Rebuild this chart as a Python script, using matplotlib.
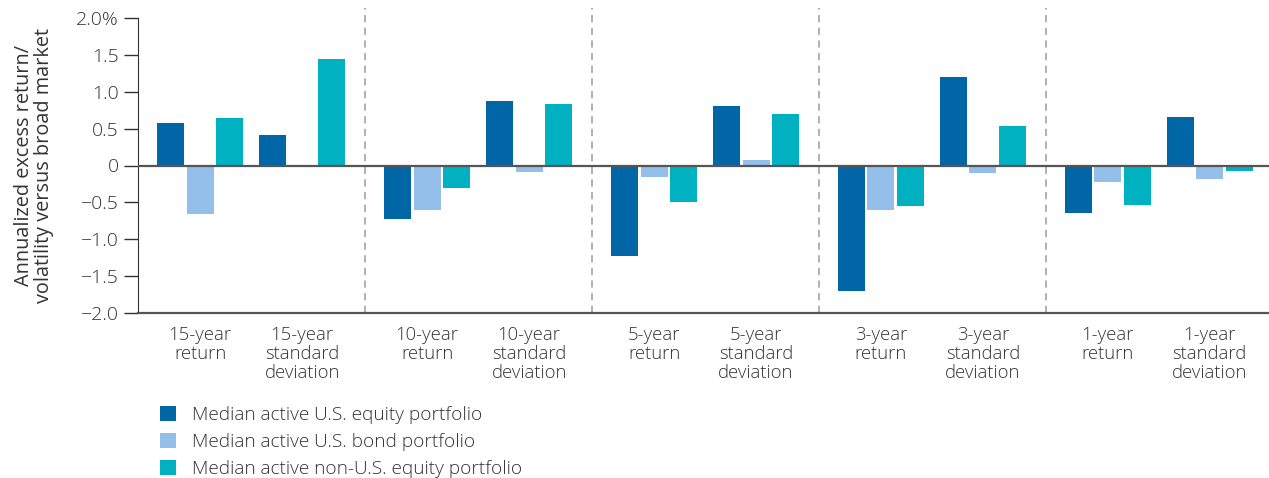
import matplotlib
matplotlib.use("Agg")
import matplotlib.pyplot as plt
import numpy as np

plt.rcParams["font.family"] = ["Open Sans", "DejaVu Sans"]
plt.rcParams["font.weight"] = "light"

categories = [
    "15-year\nreturn", "15-year\nstandard\ndeviation",
    "10-year\nreturn", "10-year\nstandard\ndeviation",
    "5-year\nreturn", "5-year\nstandard\ndeviation",
    "3-year\nreturn", "3-year\nstandard\ndeviation",
    "1-year\nreturn", "1-year\nstandard\ndeviation",
]
series_names = [
    "Median active U.S. equity portfolio",
    "Median active U.S. bond portfolio",
    "Median active non-U.S. equity portfolio",
]
us_equity = [0.57, 0.42, -0.73, 0.88, -1.23, 0.81, -1.70, 1.20, -0.64, 0.66]
us_bond = [-0.66, 0.0, -0.60, -0.09, -0.15, 0.08, -0.60, -0.10, -0.22, -0.18]
non_us_equity = [0.64, 1.45, -0.31, 0.84, -0.49, 0.70, -0.55, 0.54, -0.54, -0.07]
yticks = [2.0, 1.5, 1.0, 0.5, 0, -0.5, -1.0, -1.5, -2.0]
ytick_labels = ["2.0%", "1.5", "1.0", "0.5", "0", "\u22120.5", "\u22121.0", "\u22121.5", "\u22122.0"]

colors = ["#0066a6", "#93bfea", "#00b2c1"]
text_color = "#333333"

fig = plt.figure(figsize=(12.69, 4.78), dpi=100)
ax = fig.add_axes([138 / 1269, 1 - 313 / 478, 1 - 138 / 1269, (313 - 18) / 478])

# pairs of categories (return / std dev) separated by a wider gap
pair_step = 2.225
idx = np.arange(len(categories))
x = (idx // 2) * pair_step + (idx % 2)
width = 0.265
offset = 0.29

for k, (vals, name) in enumerate(zip([us_equity, us_bond, non_us_equity], series_names)):
    ax.bar(x + (k - 1) * offset, vals, width=width, color=colors[k], label=name, zorder=2)

ax.axhline(0, color="#555555", lw=1.6, zorder=3)
for p in range(1, 5):
    ax.axvline(p * pair_step - 0.61, ymin=0, ymax=1.035, color="#aaaaaa", lw=1.3,
               ls=(0, (4, 3)), clip_on=False, zorder=1)

ax.set_xlim(-0.61, 10.48)
ax.set_ylim(-2.0, 2.0)
ax.set_yticks(yticks)
ax.set_yticklabels(ytick_labels)
ax.set_xticks(x)
ax.set_xticklabels(categories, linespacing=1.1)
ax.tick_params(axis="x", length=0, pad=9, labelsize=13.3, labelcolor=text_color)
ax.tick_params(axis="y", length=10, width=1, color="#333333", pad=4, labelsize=14,
               labelcolor=text_color)

for s in ["top", "right"]:
    ax.spines[s].set_visible(False)
ax.spines["left"].set_color("#333333")
ax.spines["bottom"].set_color("#555555")
ax.spines["bottom"].set_linewidth(1.6)

ax.set_ylabel("Annualized excess return/\nvolatility versus broad market", fontsize=14.3,
              color=text_color, labelpad=16, linespacing=1.0)

fig.legend(loc="upper left", bbox_to_anchor=(143 / 1269, 1 - 389 / 478), frameon=False,
           handlelength=0.85, handleheight=0.85, handletextpad=0.8, labelspacing=0.45,
           fontsize=13.7, labelcolor=text_color)

fig.savefig("out.png", dpi=100)
